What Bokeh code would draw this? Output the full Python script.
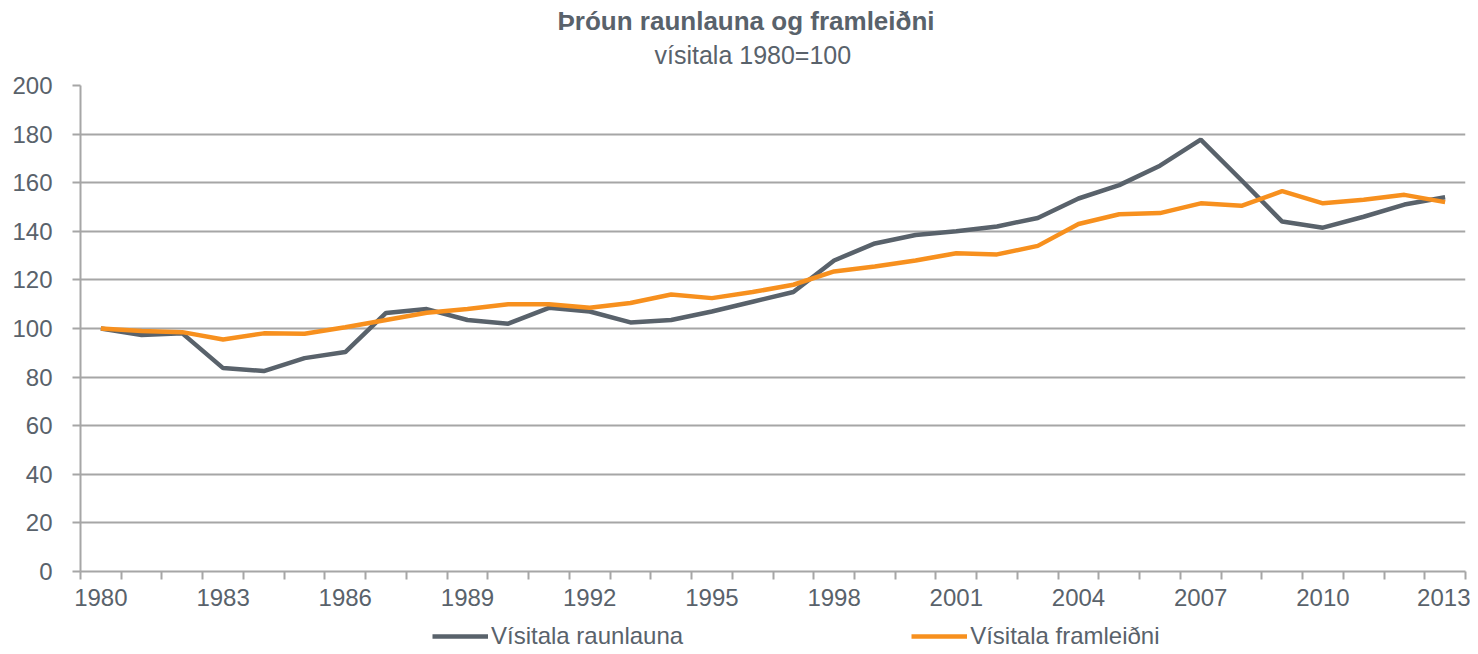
from bokeh.plotting import figure
from bokeh.layouts import column
from bokeh.models import Range1d, FixedTicker, Legend, LegendItem, Title
from bokeh.embed import file_html
from bokeh.resources import INLINE

years = list(range(1980, 2014))
raunlaun = [100, 97.3, 98, 83.7, 82.5, 87.8, 90.3, 106.4, 108, 103.5, 102, 108.5,
            107, 102.5, 103.5, 107, 111, 115, 128, 135, 138.5, 140, 142, 145.5,
            153.5, 159, 167, 177.7, 161, 144, 141.5, 146, 151, 154]
framleidni = [100, 99, 98.5, 95.5, 98, 97.8, 100.5, 103.5, 106.5, 108, 110, 110,
              108.5, 110.5, 114, 112.5, 115, 118, 123.5, 125.5, 128, 131, 130.5, 134,
              143, 147, 147.5, 151.5, 150.5, 156.5, 151.5, 153, 155, 152]
x_labels = [1980, 1983, 1986, 1989, 1992, 1995, 1998, 2001, 2004, 2007, 2010, 2013]
y_ticks = [0, 20, 40, 60, 80, 100, 120, 140, 160, 180, 200]
series_names = ["Vísitala raunlauna", "Vísitala framleiðni"]
title_text = "Þróun raunlauna og framleiðni"
subtitle_text = "vísitala 1980=100"

GRAY = "#59626b"
ORANGE = "#f7901e"
TEXT = "#59626b"
GRID = "#a6a6a6"
FONT = "Liberation Sans"

x_range = Range1d(years[0] - 0.5, years[-1] + 0.5)

p = figure(width=1470, height=611, output_backend="svg", toolbar_location=None,
           x_range=x_range, y_range=Range1d(0, 200),
           title=None, min_border_left=80, min_border_right=5,
           min_border_top=10, min_border_bottom=40)
p.outline_line_color = None
p.background_fill_color = "white"
p.border_fill_color = "white"

spacer = Title(text=" ", text_font=FONT, text_font_size="2px", standoff=13)
sub = Title(text=subtitle_text, align="left", text_font=FONT, text_font_size="25px",
            text_font_style="normal", text_color=TEXT, standoff=0, offset=574)
main = Title(text=title_text, align="left", text_font=FONT, text_font_size="26px",
             text_font_style="bold", text_color=TEXT, standoff=6, offset=477)
p.add_layout(spacer, "above")
p.add_layout(sub, "above")
p.add_layout(main, "above")

r1 = p.line(years, raunlaun, line_color=GRAY, line_width=4.5)
r2 = p.line(years, framleidni, line_color=ORANGE, line_width=4.5)

# axes
p.yaxis.ticker = FixedTicker(ticks=y_ticks)
p.yaxis.axis_line_color = GRID
p.yaxis.axis_line_width = 2
p.yaxis.major_tick_line_color = GRID
p.yaxis.major_tick_line_width = 2
p.yaxis.major_tick_out = 8
p.yaxis.major_tick_in = 0
p.yaxis.minor_tick_line_color = None
p.yaxis.major_label_text_font = FONT
p.yaxis.major_label_text_font_size = "24px"
p.yaxis.major_label_text_color = TEXT
p.yaxis.major_label_standoff = 20

boundaries = [y - 0.5 for y in years] + [years[-1] + 0.5]
p.xaxis.ticker = FixedTicker(ticks=x_labels, minor_ticks=boundaries)
p.xaxis.axis_line_color = GRID
p.xaxis.axis_line_width = 2
p.xaxis.major_tick_line_color = None
p.xaxis.major_tick_out = 0
p.xaxis.major_tick_in = 0
p.xaxis.minor_tick_line_color = GRID
p.xaxis.minor_tick_line_width = 2
p.xaxis.minor_tick_out = 8
p.xaxis.minor_tick_in = 0
p.xaxis.major_label_text_font = FONT
p.xaxis.major_label_text_font_size = "24px"
p.xaxis.major_label_text_color = TEXT
p.xaxis.major_label_standoff = 9

p.xgrid.grid_line_color = None
p.ygrid.ticker = FixedTicker(ticks=y_ticks)
p.ygrid.grid_line_color = GRID
p.ygrid.grid_line_width = 2

# legend strip below the chart
q = figure(width=1470, height=40, output_backend="svg", toolbar_location=None,
           x_range=x_range, y_range=Range1d(-2, -1), x_axis_type=None, y_axis_type=None,
           title=None, min_border_left=80, min_border_right=5, min_border_top=0,
           min_border_bottom=0)
q.outline_line_color = None
q.xgrid.grid_line_color = None
q.ygrid.grid_line_color = None
q1 = q.line(years, raunlaun, line_color=GRAY, line_width=4.5)
q2 = q.line(years, framleidni, line_color=ORANGE, line_width=4.5)

legend = Legend(items=[LegendItem(label=series_names[0], renderers=[q1]),
                       LegendItem(label=series_names[1], renderers=[q2])],
                orientation="horizontal", location=(352, 1),
                glyph_width=56, glyph_height=20, label_standoff=3, spacing=228,
                label_text_font=FONT, label_text_font_size="24px",
                label_text_color=TEXT, border_line_color=None,
                background_fill_alpha=0, padding=0, margin=0)
q.add_layout(legend, "center")

layout = column(p, q, spacing=0)
open("out.html", "w").write(file_html(layout, INLINE))
